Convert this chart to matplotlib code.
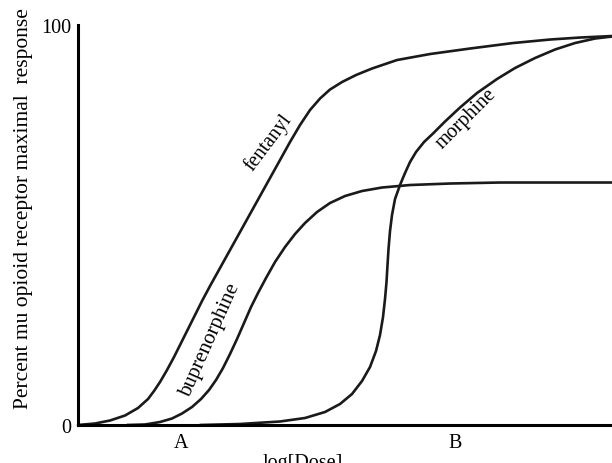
import matplotlib.pyplot as plt

plt.rcParams['font.family'] = ['Liberation Serif', 'DejaVu Serif']

# log[Dose] (arbitrary units) and percent of maximal response
fentanyl_x = [0.0, 0.34, 0.64, 0.94, 1.20, 1.40, 1.52, 1.64, 1.78, 1.92, 2.06, 2.20,
              2.34, 2.48, 2.64, 2.84, 3.04, 3.24, 3.44, 3.64, 3.84, 4.04, 4.24, 4.44,
              4.64, 4.84, 5.04, 5.28, 5.56, 5.88, 6.38, 7.04, 7.84, 8.70, 9.44, 10.04,
              10.68]
fentanyl_y = [0.0, 0.375, 1.125, 2.375, 4.25, 6.5, 8.5, 10.75, 13.75, 17.0, 20.5, 24.0,
              27.5, 31.0, 34.75, 39.25, 43.75, 48.25, 52.75, 57.25, 61.75, 66.25, 70.75,
              75.0, 78.75, 81.625, 83.875, 85.75, 87.5, 89.125, 91.25, 92.75, 94.125,
              95.5, 96.375, 96.875, 97.25]

bup_x = [0.98, 1.34, 1.64, 1.88, 2.08, 2.28, 2.46, 2.62, 2.76, 2.90, 3.04, 3.18, 3.32,
         3.46, 3.60, 3.76, 3.94, 4.14, 4.34, 4.54, 4.78, 5.04, 5.34, 5.68, 6.08, 6.64,
         7.44, 8.44, 10.68]
bup_y = [0.0, 0.125, 0.75, 1.625, 2.875, 4.5, 6.5, 8.75, 11.25, 14.25, 17.75, 21.5,
         25.5, 29.5, 33.0, 36.75, 40.75, 44.5, 47.75, 50.5, 53.25, 55.5, 57.25, 58.5,
         59.375, 60.0, 60.375, 60.625, 60.625]

morph_x = [2.44, 3.24, 4.04, 4.54, 4.94, 5.24, 5.48, 5.68, 5.84, 5.96, 6.04, 6.10,
           6.14, 6.17, 6.19, 6.21, 6.24, 6.28, 6.34, 6.44, 6.54, 6.64, 6.76, 6.92,
           7.10, 7.34, 7.64, 7.98, 8.38, 8.74, 9.14, 9.54, 9.94, 10.34, 10.68]
morph_y = [0.0, 0.25, 0.875, 1.75, 3.25, 5.25, 7.75, 11.0, 14.5, 18.5, 22.5, 27.0,
           31.5, 35.75, 40.0, 44.0, 48.5, 52.5, 56.5, 60.0, 63.0, 65.75, 68.25, 70.75,
           72.875, 75.875, 79.375, 83.0, 86.5, 89.25, 91.75, 93.875, 95.5, 96.625,
           97.125]

dose_ticks = [2.06, 7.54]
dose_labels = ['A', 'B']
resp_ticks = [0, 100]
resp_labels = ['0', '100']

fig = plt.figure(figsize=(6.12, 4.64), dpi=100)
ax = fig.add_axes([0.1275, 0.0819, 0.8725, 0.862])

for xs, ys in [(fentanyl_x, fentanyl_y), (bup_x, bup_y), (morph_x, morph_y)]:
    ax.plot(xs, ys, color='#1a1a1a', lw=1.9, solid_joinstyle='round',
            solid_capstyle='round', clip_on=False)

ax.set_xlim(0, 10.68)
ax.set_ylim(0, 100)
ax.spines['top'].set_visible(False)
ax.spines['right'].set_visible(False)
ax.spines['left'].set_linewidth(2.2)
ax.spines['bottom'].set_linewidth(2.2)

ax.set_xticks(dose_ticks)
ax.set_xticklabels(dose_labels)
ax.set_yticks(resp_ticks)
ax.set_yticklabels(resp_labels)
ax.tick_params(length=0, labelsize=14.5, pad=5)
ax.tick_params(axis='x', pad=6)

ax.set_xlabel('log[Dose]', fontsize=14.5)
ax.xaxis.set_label_coords(0.421, -0.07)
ax.set_ylabel('Percent mu opioid receptor maximal  response', fontsize=15.5)
ax.yaxis.set_label_coords(-0.084, 0.5425)

ax.text(3.80, 70.75, 'fentanyl', rotation=53, fontsize=14.5, ha='center', va='center')
ax.text(2.64, 21.5, 'buprenorphine', rotation=66, fontsize=15, ha='center', va='center')
ax.text(7.76, 76.75, 'morphine', rotation=45, fontsize=14.5, ha='center', va='center')

plt.savefig('out.png', dpi=100)
